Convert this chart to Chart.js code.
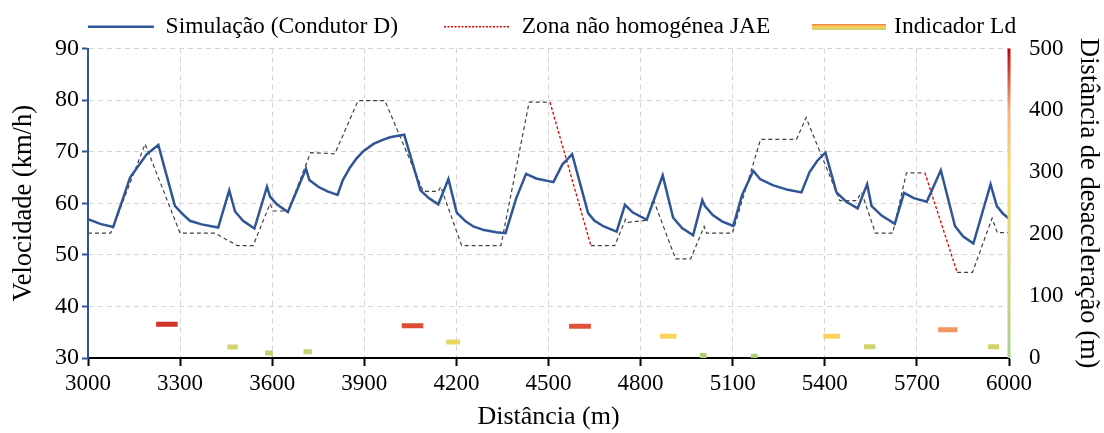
<!DOCTYPE html>
<html>
<head>
<meta charset="utf-8">
<script src="https://cdn.jsdelivr.net/npm/chart.js@4/dist/chart.umd.min.js"></script>
<style>
  html, body { margin: 0; padding: 0; background: #fff; }
  #wrap { width: 1104px; height: 433px; }
</style>
</head>
<body>
<div id="wrap"><canvas id="grafico"></canvas></div>
<script>
// Simulação (Condutor D) - distância (m) e velocidade (km/h)
const simX = [3000, 3040, 3082, 3115, 3137, 3191, 3229, 3283, 3310, 3332, 3370, 3424, 3460, 3479, 3505, 3542,
  3583, 3593, 3615, 3651, 3710, 3721, 3750, 3780, 3813, 3830, 3853, 3875, 3897, 3930, 3960, 3984, 4010, 4030,
  4083, 4110, 4141, 4174, 4201, 4230, 4255, 4290, 4330, 4360, 4395, 4427, 4460, 4516, 4545, 4577, 4629, 4650,
  4680, 4722, 4749, 4775, 4820, 4872, 4906, 4935, 4971, 5001, 5009, 5035, 5065, 5102, 5130, 5167, 5189, 5230,
  5280, 5324, 5350, 5375, 5402, 5438, 5470, 5507, 5538, 5552, 5585, 5628, 5658, 5690, 5732, 5778, 5824, 5850,
  5884, 5940, 5960, 5980, 6000];
const simY = [56.9, 56.0, 55.4, 61.1, 65.0, 69.5, 71.3, 59.5, 57.8, 56.6, 55.9, 55.3, 62.5, 58.4, 56.6, 55.1,
  63.2, 61.3, 59.8, 58.3, 66.7, 64.5, 63.2, 62.3, 61.6, 64.5, 66.9, 68.7, 70.1, 71.5, 72.3, 72.8, 73.1, 73.3,
  62.5, 61.0, 59.8, 64.7, 58.2, 56.5, 55.5, 54.8, 54.4, 54.2, 61.0, 65.7, 64.8, 64.1, 67.5, 69.5, 58.1, 56.6,
  55.5, 54.5, 59.7, 58.2, 56.8, 65.4, 57.2, 55.2, 53.8, 60.6, 59.5, 57.7, 56.5, 55.6, 61.5, 66.3, 64.7, 63.5,
  62.6, 62.1, 66.0, 68.2, 69.8, 62.1, 60.3, 59.0, 63.7, 59.5, 57.6, 56.0, 62.0, 61.0, 60.3, 66.4, 55.6, 53.6,
  52.2, 63.7, 59.5, 58.0, 57.0];

// Velocidade de referência (tracejado cinzento)
const refX = [3000, 3074, 3186, 3300, 3414, 3486, 3538, 3593, 3604, 3652, 3725, 3804, 3880, 3967, 4092, 4141,
  4149, 4217, 4345, 4437, 4505, 4638, 4716, 4751, 4760, 4820, 4841, 4914, 4963, 5007, 5015, 5099, 5191, 5308,
  5339, 5449, 5503, 5520, 5565, 5621, 5666, 5726, 5831, 5881, 5945, 5962, 6000];
const refY = [54.2, 54.2, 71.5, 54.2, 54.2, 51.8, 51.8, 59.9, 58.5, 58.5, 69.8, 69.6, 79.9, 79.9, 62.3, 62.3,
  63.2, 51.8, 51.8, 79.6, 79.6, 51.8, 51.8, 56.9, 56.3, 56.7, 60.8, 49.2, 49.2, 55.5, 54.2, 54.2, 72.4, 72.4,
  76.6, 60.5, 60.5, 62.1, 54.2, 54.2, 65.9, 65.9, 46.6, 46.6, 57.1, 54.3, 54.3];

// Zona não homogénea JAE (início e fim de cada troço)
const zonaX = [[4505, 4638], [5726, 5831]];
const zonaY = [[79.6, 51.8], [65.9, 46.6]];

// Indicador Ld - distância de desaceleração (m)
const ldInicio = [3222, 3454, 3577, 3702, 4022, 4167, 4567, 4863, 4993, 5159, 5395, 5528, 5769, 5932];
const ldFim = [3292, 3488, 3602, 3729, 4092, 4212, 4638, 4917, 5015, 5181, 5449, 5565, 5832, 5968];
const ldValor = [54.7, 17.7, 8, 10, 52, 25.7, 51.4, 35, 4, 3, 35, 18, 45.5, 18];

const ticksX = [3000, 3300, 3600, 3900, 4200, 4500, 4800, 5100, 5400, 5700, 6000];

const fonte = 'Liberation Serif, Times New Roman, serif';

// escala de cor do indicador
const coresLd = [[0, [168, 205, 120]], [12, [195, 210, 111]], [20, [216, 211, 106]], [28, [240, 211, 94]],
  [36, [255, 210, 92]], [44, [247, 168, 108]], [50, [229, 96, 63]], [55, [210, 47, 39]]];
function corLd(v) {
  for (let i = 1; i < coresLd.length; i++) {
    if (v <= coresLd[i][0]) {
      const a = coresLd[i - 1], b = coresLd[i];
      const t = (v - a[0]) / (b[0] - a[0]);
      const c = a[1].map((k, j) => Math.round(k + (b[1][j] - k) * t));
      return `rgb(${c[0]},${c[1]},${c[2]})`;
    }
  }
  return 'rgb(210,47,39)';
}

const simData = simX.map((x, i) => ({ x, y: simY[i] }));
const refData = refX.map((x, i) => ({ x, y: refY[i] }));
const zonaData = [];
zonaX.forEach((z, i) => {
  zonaData.push({ x: z[0], y: zonaY[i][0] }, { x: z[1], y: zonaY[i][1] }, { x: z[1] + 1, y: null });
});
const ldData = [];
ldInicio.forEach((x, i) => {
  ldData.push({ x, y: ldValor[i] }, { x: ldFim[i], y: ldValor[i] }, { x: ldFim[i] + 1, y: null });
});
const inicioZona = zonaX.map(z => z[0]);

// amostra da legenda do indicador
const amostraLd = document.createElement('canvas');
amostraLd.width = 74; amostraLd.height = 6;
(() => {
  const g = amostraLd.getContext('2d');
  const grad = g.createLinearGradient(0, 0, 0, 6);
  grad.addColorStop(0, '#ec6c48');
  grad.addColorStop(0.45, '#fdd15c');
  grad.addColorStop(1, '#c9d36e');
  g.fillStyle = grad;
  g.fillRect(0, 0, 74, 6);
})();

// eixo direito com gradiente
const eixoGradiente = {
  id: 'eixoGradiente',
  afterDatasetsDraw(chart) {
    const s = chart.scales.y1;
    const ctx = chart.ctx;
    const x = chart.chartArea.right;
    const grad = ctx.createLinearGradient(0, s.bottom, 0, s.top);
    grad.addColorStop(0, '#a9d18e');
    grad.addColorStop(0.6, '#ffd966');
    grad.addColorStop(0.8, '#f4b183');
    grad.addColorStop(1, '#c00000');
    ctx.save();
    ctx.fillStyle = grad;
    ctx.fillRect(x - 1.5, s.top, 3, s.bottom - s.top);
    ctx.restore();
  }
};

new Chart(document.getElementById('grafico'), {
  type: 'line',
  data: {
    datasets: [
      {
        label: 'Simulação (Condutor D)',
        data: simData,
        borderColor: '#2f5597',
        borderWidth: 2.5,
        pointRadius: 0,
        yAxisID: 'y',
        order: 1
      },
      {
        label: 'Zona não homogénea JAE',
        data: zonaData,
        borderColor: '#e00000',
        borderWidth: 1.3,
        borderDash: [3, 2],
        pointRadius: 0,
        yAxisID: 'y',
        order: 2
      },
      {
        label: 'Indicador Ld',
        data: ldData,
        borderWidth: 5,
        borderCapStyle: 'butt',
        pointRadius: 0,
        yAxisID: 'y1',
        segment: { borderColor: c => corLd(c.p0.parsed.y) },
        order: 3
      },
      {
        label: 'Referência',
        data: refData,
        borderColor: '#404040',
        borderWidth: 1.2,
        borderDash: [4, 3],
        pointRadius: 0,
        yAxisID: 'y',
        segment: { borderColor: c => inicioZona.includes(c.p0.parsed.x) ? 'rgba(0,0,0,0)' : '#404040' },
        order: 4
      }
    ]
  },
  options: {
    responsive: true,
    maintainAspectRatio: false,
    animation: false,
    layout: { padding: { top: -31, left: 0, right: 0, bottom: 0 } },
    plugins: {
      legend: {
        position: 'top',
        labels: {
          usePointStyle: true,
          pointStyleWidth: 66,
          padding: 46,
          color: '#000',
          font: { family: fonte, size: 23.5 },
          generateLabels: () => [
            { text: 'Simulação (Condutor D)', pointStyle: 'line', strokeStyle: '#2f5597', fillStyle: '#2f5597', lineWidth: 2.5, lineDash: [], datasetIndex: 0 },
            { text: 'Zona não homogénea JAE', pointStyle: 'line', strokeStyle: '#e00000', fillStyle: '#e00000', lineWidth: 1.5, lineDash: [2, 1.5], datasetIndex: 1 },
            { text: 'Indicador Ld', pointStyle: amostraLd, lineWidth: 0, datasetIndex: 2 }
          ]
        }
      },
      tooltip: { enabled: false }
    },
    scales: {
      x: {
        type: 'linear',
        min: 3000,
        max: 6000,
        afterBuildTicks: s => { s.ticks = ticksX.map(v => ({ value: v })); },
        afterFit: s => { s.height = 75; },
        ticks: {
          color: '#000',
          font: { family: fonte, size: 23 },
          padding: 4,
          maxRotation: 0,
          callback: v => String(v)
        },
        grid: { color: '#d4d4d4', tickColor: '#000', tickWidth: 2, tickLength: 8, tickBorderDash: [] },
        border: { color: '#000', width: 2, dash: [5, 4] },
        title: { display: true, text: 'Distância (m)', color: '#000', font: { family: fonte, size: 26 }, padding: 0 }
      },
      y: {
        position: 'left',
        min: 30,
        max: 90,
        ticks: { stepSize: 10, color: '#000', font: { family: fonte, size: 24 }, padding: 3 },
        afterFit: s => { s.width = 88; },
        grid: { color: '#d4d4d4', tickColor: '#2f5597', tickWidth: 2, tickLength: 6, tickBorderDash: [] },
        border: { color: '#2f5597', width: 2, dash: [5, 4] },
        title: { display: true, text: 'Velocidade (km/h)', color: '#000', font: { family: fonte, size: 26.5 }, padding: { top: 8, bottom: 0 } }
      },
      y1: {
        position: 'right',
        min: 0,
        max: 500,
        ticks: { stepSize: 100, color: '#000', font: { family: fonte, size: 23 }, padding: 20 },
        afterFit: s => { s.width = 95; },
        grid: { drawOnChartArea: false, drawTicks: false },
        border: { display: false },
        title: { display: true, text: 'Distância de desaceleração (m)', color: '#000', font: { family: fonte, size: 26.5 }, padding: 0 }
      }
    }
  },
  plugins: [eixoGradiente]
});
</script>
</body>
</html>
